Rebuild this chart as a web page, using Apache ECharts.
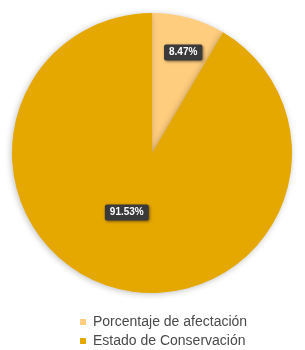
<!DOCTYPE html>
<html>
<head>
<meta charset="utf-8">
<script src="https://cdn.jsdelivr.net/npm/echarts@6/dist/echarts.min.js"></script>
<style>
  html, body { margin: 0; padding: 0; background: #fff; }
  #piechart { width: 305px; height: 350px; }
</style>
</head>
<body>
<div id="piechart"></div>
<script>
  // datos del grafico
  let categorias = ['Porcentaje de afectación', 'Estado de Conservación'];
  let valores = [8.47, 91.53];
  let colores = ['#FFCD7E', '#E5A800'];
  let desplazamientos = [[12, -30], [-6, -11]];

  let myChart = echarts.init(document.getElementById('piechart'));
  myChart.setOption({
    animation: false,
    color: colores,
    legend: {
      orient: 'vertical',
      left: 75,
      top: 310,
      height: 45,
      icon: 'rect',
      itemWidth: 6,
      itemHeight: 6,
      itemGap: 5,
      textStyle: {
        color: '#4a4a4a',
        fontSize: 14,
        fontFamily: 'Liberation Sans',
        padding: [0, 0, 0, 2]
      },
      data: categorias
    },
    series: [{
      type: 'pie',
      center: [152, 153],
      radius: ['0%', 140],
      startAngle: 90,
      clockwise: true,
      itemStyle: {
        shadowBlur: 6,
        shadowColor: 'rgba(0,0,0,0.25)',
        shadowOffsetX: -1,
        shadowOffsetY: 1
      },
      label: {
        show: true,
        position: 'inside',
        formatter: function (p) { return p.value.toFixed(2) + '%' },
        color: '#fff',
        fontSize: 10,
        fontWeight: 'bold',
        fontFamily: 'Liberation Sans',
        backgroundColor: '#3a3a3a',
        padding: [3, 5],
        borderRadius: 2,
        shadowBlur: 3,
        shadowColor: 'rgba(0,0,0,0.5)',
        shadowOffsetX: 1,
        shadowOffsetY: 1
      },
      labelLine: { show: false },
      data: categorias.map((c, i) => {
        return {
          name: c,
          value: valores[i],
          label: { offset: desplazamientos[i] }
        }
      })
    }]
  });
</script>
</body>
</html>
